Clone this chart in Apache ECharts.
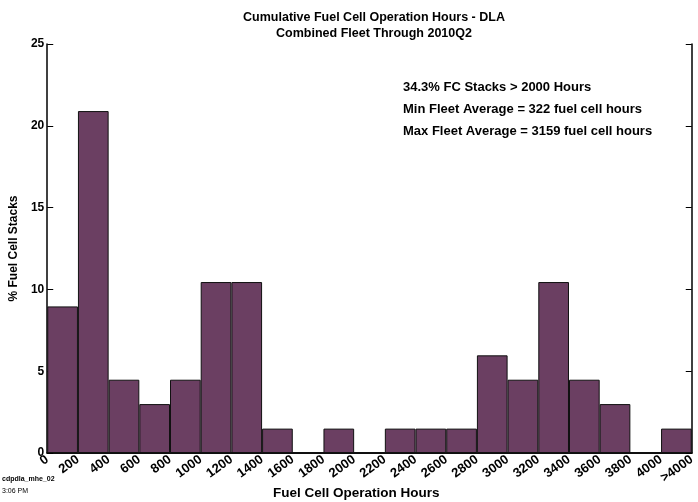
<!DOCTYPE html>
<html><head><meta charset="utf-8">
<script src="https://cdn.jsdelivr.net/npm/echarts@6/dist/echarts.min.js"></script>
<style>html,body{margin:0;padding:0;background:#fff}#c{width:698px;height:502px}</style>
</head><body><div id="c"></div>
<script>
const categories = ['0-200','200-400','400-600','600-800','800-1000','1000-1200','1200-1400','1400-1600','1600-1800','1800-2000','2000-2200','2200-2400','2400-2600','2600-2800','2800-3000','3000-3200','3200-3400','3400-3600','3600-3800','3800-4000','>4000'];
const percentStacks = [8.96,20.90,4.48,2.99,4.48,10.45,10.45,1.49,0,1.49,0,1.49,1.49,1.49,5.97,4.48,10.45,4.48,2.99,0,1.49];
const edgeTicks = [0,200,400,600,800,1000,1200,1400,1600,1800,2000,2200,2400,2600,2800,3000,3200,3400,3600,3800,4000,'>4000'];
const yTicks = [0,5,10,15,20,25];
const notes = ['34.3% FC Stacks > 2000 Hours','Min Fleet Average = 322 fuel cell hours','Max Fleet Average = 3159 fuel cell hours'];

const F = 'Liberation Sans, Arial, sans-serif';
const chart = echarts.init(document.getElementById('c'));
const lineStyle = {color:'#000', width:1.5};
chart.setOption({
  animation:false,
  title:{text:'Cumulative Fuel Cell Operation Hours - DLA\nCombined Fleet Through 2010Q2', left:369, top:5, textAlign:'center',
    textStyle:{fontFamily:F, fontSize:12.5, fontWeight:'bold', color:'#000', lineHeight:16}},
  grid:{left:46, right:3, top:44, bottom:49},
  graphic:[
    {type:'text', left:403, top:76, style:{text:notes.join('\n'), font:'bold 13px '+F, fill:'#000', lineHeight:22}},
    {type:'text', left:2, top:476, style:{text:'cdpdla_mhe_02', font:'bold 7px '+F, fill:'#000'}},
    {type:'text', left:2, top:488, style:{text:'3:06 PM', font:'7px '+F, fill:'#000'}},
    {type:'text', left:273, top:486, style:{text:'Fuel Cell Operation Hours', font:'bold 13.5px '+F, fill:'#000'}}
  ],
  xAxis:[
    {type:'category', data:categories, position:'bottom', axisLine:{lineStyle}, axisTick:{show:false}, axisLabel:{show:false}},
    {type:'category', data:categories, position:'top', axisLine:{lineStyle}, axisTick:{inside:true, length:5, lineStyle:{color:'#000'}}, axisLabel:{show:false}},
    {type:'value', min:0, max:4200, interval:200, position:'bottom', axisLine:{show:false}, axisTick:{show:false}, splitLine:{show:false},
      axisLabel:{rotate:36, margin:5, fontFamily:F, fontSize:13, fontWeight:'bold', color:'#000',
        formatter:function(v){return String(edgeTicks[Math.round(v/200)]);}}}
  ],
  yAxis:[
    {type:'value', min:yTicks[0], max:yTicks[yTicks.length-1], interval:5, position:'left', axisLine:{show:true, lineStyle},
      name:'% Fuel Cell Stacks', nameLocation:'middle', nameRotate:90, nameGap:23,
      nameTextStyle:{fontFamily:F, fontSize:12, fontWeight:'bold', color:'#000'},
      axisTick:{inside:true, length:6, lineStyle:{color:'#000'}}, splitLine:{show:false},
      axisLabel:{margin:3, fontFamily:F, fontSize:12, fontWeight:'bold', color:'#000'}},
    {type:'value', min:0, max:25, interval:5, position:'right', axisLine:{show:true, lineStyle},
      axisTick:{inside:true, length:6, lineStyle:{color:'#000'}}, splitLine:{show:false}, axisLabel:{show:false}}
  ],
  series:[{type:'bar', xAxisIndex:0, yAxisIndex:0, data:percentStacks, barCategoryGap:'0%',
    itemStyle:{color:'#6B3F62', borderColor:'#111', borderWidth:1}}]
});
</script></body></html>
